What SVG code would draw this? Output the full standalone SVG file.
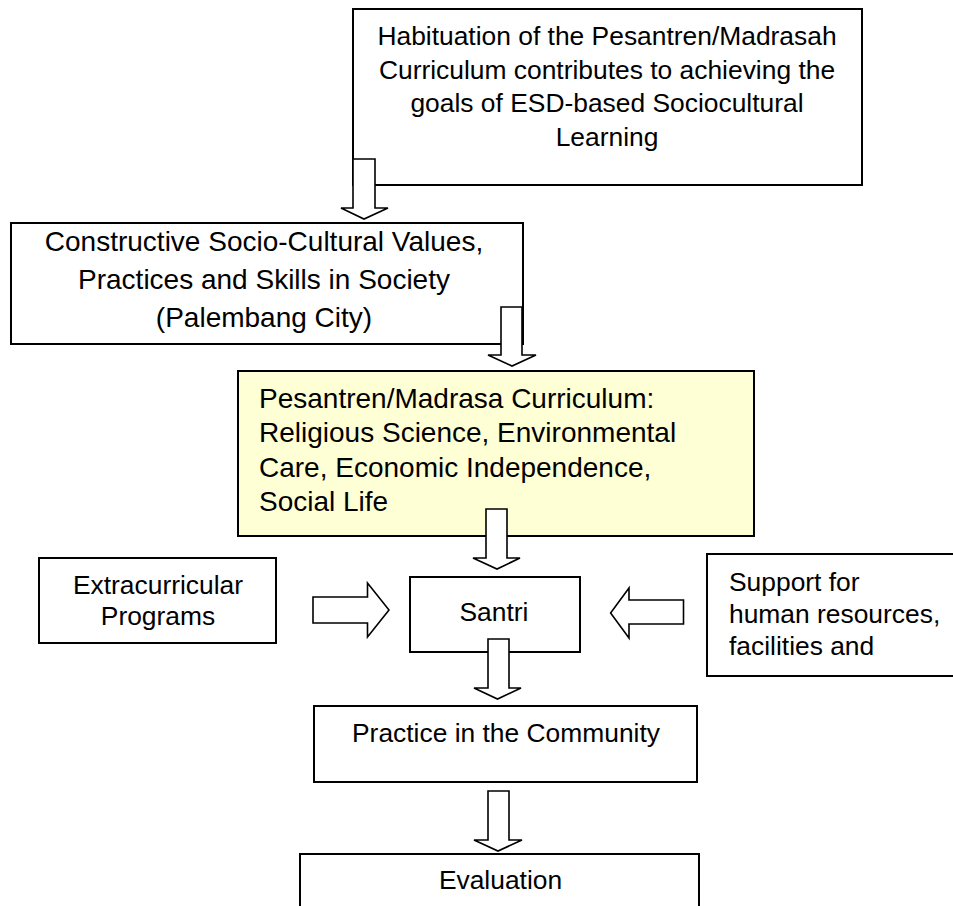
<svg xmlns="http://www.w3.org/2000/svg" width="953" height="906" viewBox="0 0 953 906">
<style>
.box{fill:#fff;stroke:#000;stroke-width:2}
.yel{fill:#ffffd5;stroke:#000;stroke-width:2}
.arr{fill:#fff;stroke:#000;stroke-width:1.6;stroke-linejoin:miter}
text{font-family:"Liberation Sans",Arial,sans-serif;fill:#000}
.t26{font-size:26.4px}
.t28{font-size:28px}
.c{text-anchor:middle}
</style>
<rect width="953" height="906" fill="#fff"/>
<g id="habituation">
<rect class="box" x="353" y="9" width="509" height="176"/>
<text class="t26 c" x="607" y="45">Habituation of the Pesantren/Madrasah</text>
<text class="t26 c" x="607" y="78.5">Curriculum contributes to achieving the</text>
<text class="t26 c" x="607" y="112">goals of ESD-based Sociocultural</text>
<text class="t26 c" x="607" y="145.5">Learning</text>
</g>
<g id="values">
<rect class="box" x="11" y="223" width="512" height="121"/>
<text class="t28 c" x="264" y="251">Constructive Socio-Cultural Values,</text>
<text class="t28 c" x="264" y="289">Practices and Skills in Society</text>
<text class="t28 c" x="264" y="327">(Palembang City)</text>
</g>
<g id="curriculum">
<rect class="yel" x="238" y="371" width="516" height="165"/>
<text class="t28" x="259" y="408">Pesantren/Madrasa Curriculum:</text>
<text class="t28" x="259" y="442">Religious Science, Environmental</text>
<text class="t28" x="259" y="477">Care, Economic Independence,</text>
<text class="t28" x="259" y="511">Social Life</text>
</g>
<g id="extracurricular">
<rect class="box" x="39" y="558" width="237" height="85"/>
<text class="t26 c" x="158" y="594">Extracurricular</text>
<text class="t26 c" x="158" y="625">Programs</text>
</g>
<g id="santri">
<rect class="box" x="410" y="577" width="170" height="75"/>
<text class="t26 c" x="494" y="621">Santri</text>
</g>
<g id="support">
<rect class="box" x="707" y="554" width="260" height="122"/>
<text class="t26" x="729" y="591">Support for</text>
<text class="t26" x="729" y="623">human resources,</text>
<text class="t26" x="729" y="655">facilities and</text>
</g>
<g id="practice">
<rect class="box" x="314" y="706" width="383" height="76"/>
<text class="t26 c" x="506" y="742">Practice in the Community</text>
</g>
<g id="evaluation">
<rect class="box" x="300" y="854" width="399" height="70"/>
<text class="t26 c" x="500.5" y="889">Evaluation</text>
</g>
<g id="connectors">
<path class="arr" d="M353,159 L375,159 L375,208 L388,208 L364,219 L341,208 L353,208 Z"/>
<path class="arr" d="M501,307 L522,307 L522,355 L536,355 L512,366 L488,355 L501,355 Z"/>
<path class="arr" d="M486,509 L507,509 L507,558 L520,558 L497,569 L473,558 L486,558 Z"/>
<path class="arr" d="M488,639 L509,639 L509,688 L521,688 L497.5,699 L474,688 L488,688 Z"/>
<path class="arr" d="M488,791 L509,791 L509,840 L522,840 L498,851 L474,840 L488,840 Z"/>
<path class="arr" d="M313,597 L367.5,597 L367.5,583 L389,610 L367.5,637 L367.5,623 L313,623 Z"/>
<path class="arr" d="M683.5,600 L629,600 L629,588 L610.6,613 L629,638 L629,624 L683.5,624 Z"/>
</g>
</svg>
